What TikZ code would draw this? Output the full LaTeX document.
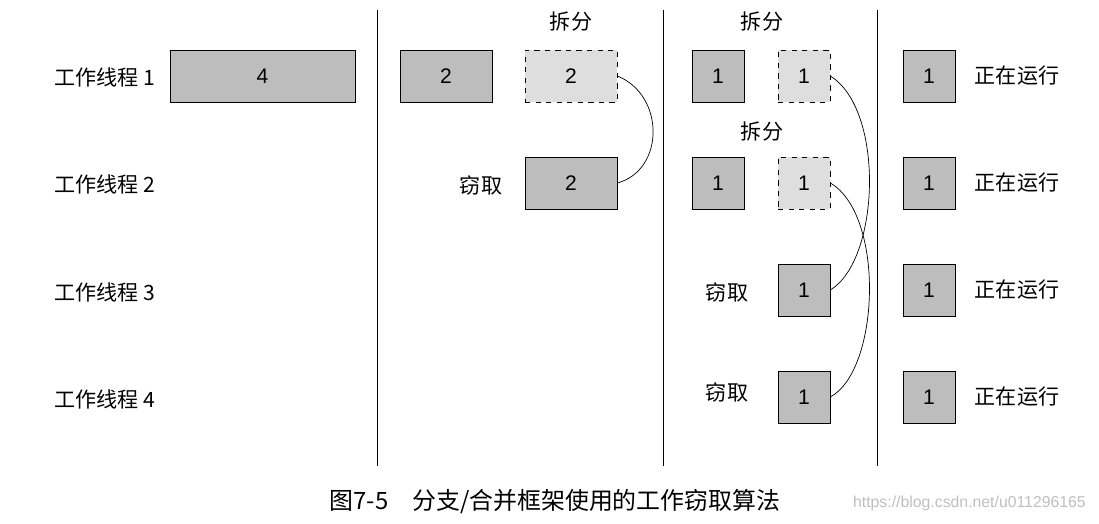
\documentclass[tikz,border=0pt]{standalone}
\usepackage{fontspec}
\setmainfont{Noto Sans CJK SC}
\newfontfamily\numfont{Liberation Sans}
\definecolor{taskgray}{HTML}{BDBDBD}
\definecolor{stolengray}{HTML}{DEDEDE}
\tikzset{
  task/.style={draw, fill=taskgray, minimum height=1.04cm, inner sep=0pt, font=\numfont\large},
  split/.style={task, dashed, fill=stolengray},
  lbl/.style={font=\large},
}
\begin{document}
\begin{tikzpicture}[x=0.02cm, y=-0.02cm]
    \useasboundingbox (0,0) rectangle (1099,524);
    % thread labels
    \foreach \i/\y in {1/77,2/184,3/292,4/399}
      \node[lbl] (w\i) at (105,\y) {工作线程 \i};
    % separators
    \foreach \x in {377,663,877}
      \draw (\x,10) -- (\x,466);

    \node[task, minimum width=3.7cm] (t4) at (262.5,76) {4};

    \node[task, minimum width=1.84cm] (a1) at (446,76) {2};
    \node[split, minimum width=1.84cm] (a2) at (571,76) {2};
    \node[task, minimum width=1.84cm] (a3) at (571,183) {2};
    \node[lbl] (s1) at (571,22) {拆分};
    \node[lbl] (k1) at (481,185) {窃取};

    \node[task, minimum width=1.04cm] (b1) at (718,76) {1};
    \node[split, minimum width=1.04cm] (b2) at (804,76) {1};
    \node[task, minimum width=1.04cm] (b3) at (718,183) {1};
    \node[split, minimum width=1.04cm] (b4) at (804,183) {1};
    \node[task, minimum width=1.04cm] (b5) at (804,290) {1};
    \node[task, minimum width=1.04cm] (b6) at (804,397) {1};
    \node[lbl] (s2) at (762,22) {拆分};
    \node[lbl] (s3) at (762,132) {拆分};
    \node[lbl] (k2) at (727,292) {窃取};
    \node[lbl] (k3) at (727,392) {窃取};

    \foreach \i/\y in {1/76,2/183,3/290,4/397} {
      \node[task, minimum width=1.04cm] (c\i) at (929,\y) {1};
      \node[lbl] (r\i) at (1017,\y) {正在运行};
    }

    \draw (a2.east) .. controls (665,95) and (665,170) .. (a3.east);
    \draw (b2.east) .. controls (885,110) and (880,260) .. (b5.east);
    \draw (b4.east) .. controls (885,215) and (880,370) .. (b6.east);

    \node[font=\fontsize{13.6}{16}\selectfont] (cap) at (555,502) {图7-5\quad 分支/合并框架使用的工作窃取算法};
    \node[font=\numfont\small, text=black!25, anchor=east] (wm) at (1092,503) {https://blog.csdn.net/u011296165};
\end{tikzpicture}
\end{document}
